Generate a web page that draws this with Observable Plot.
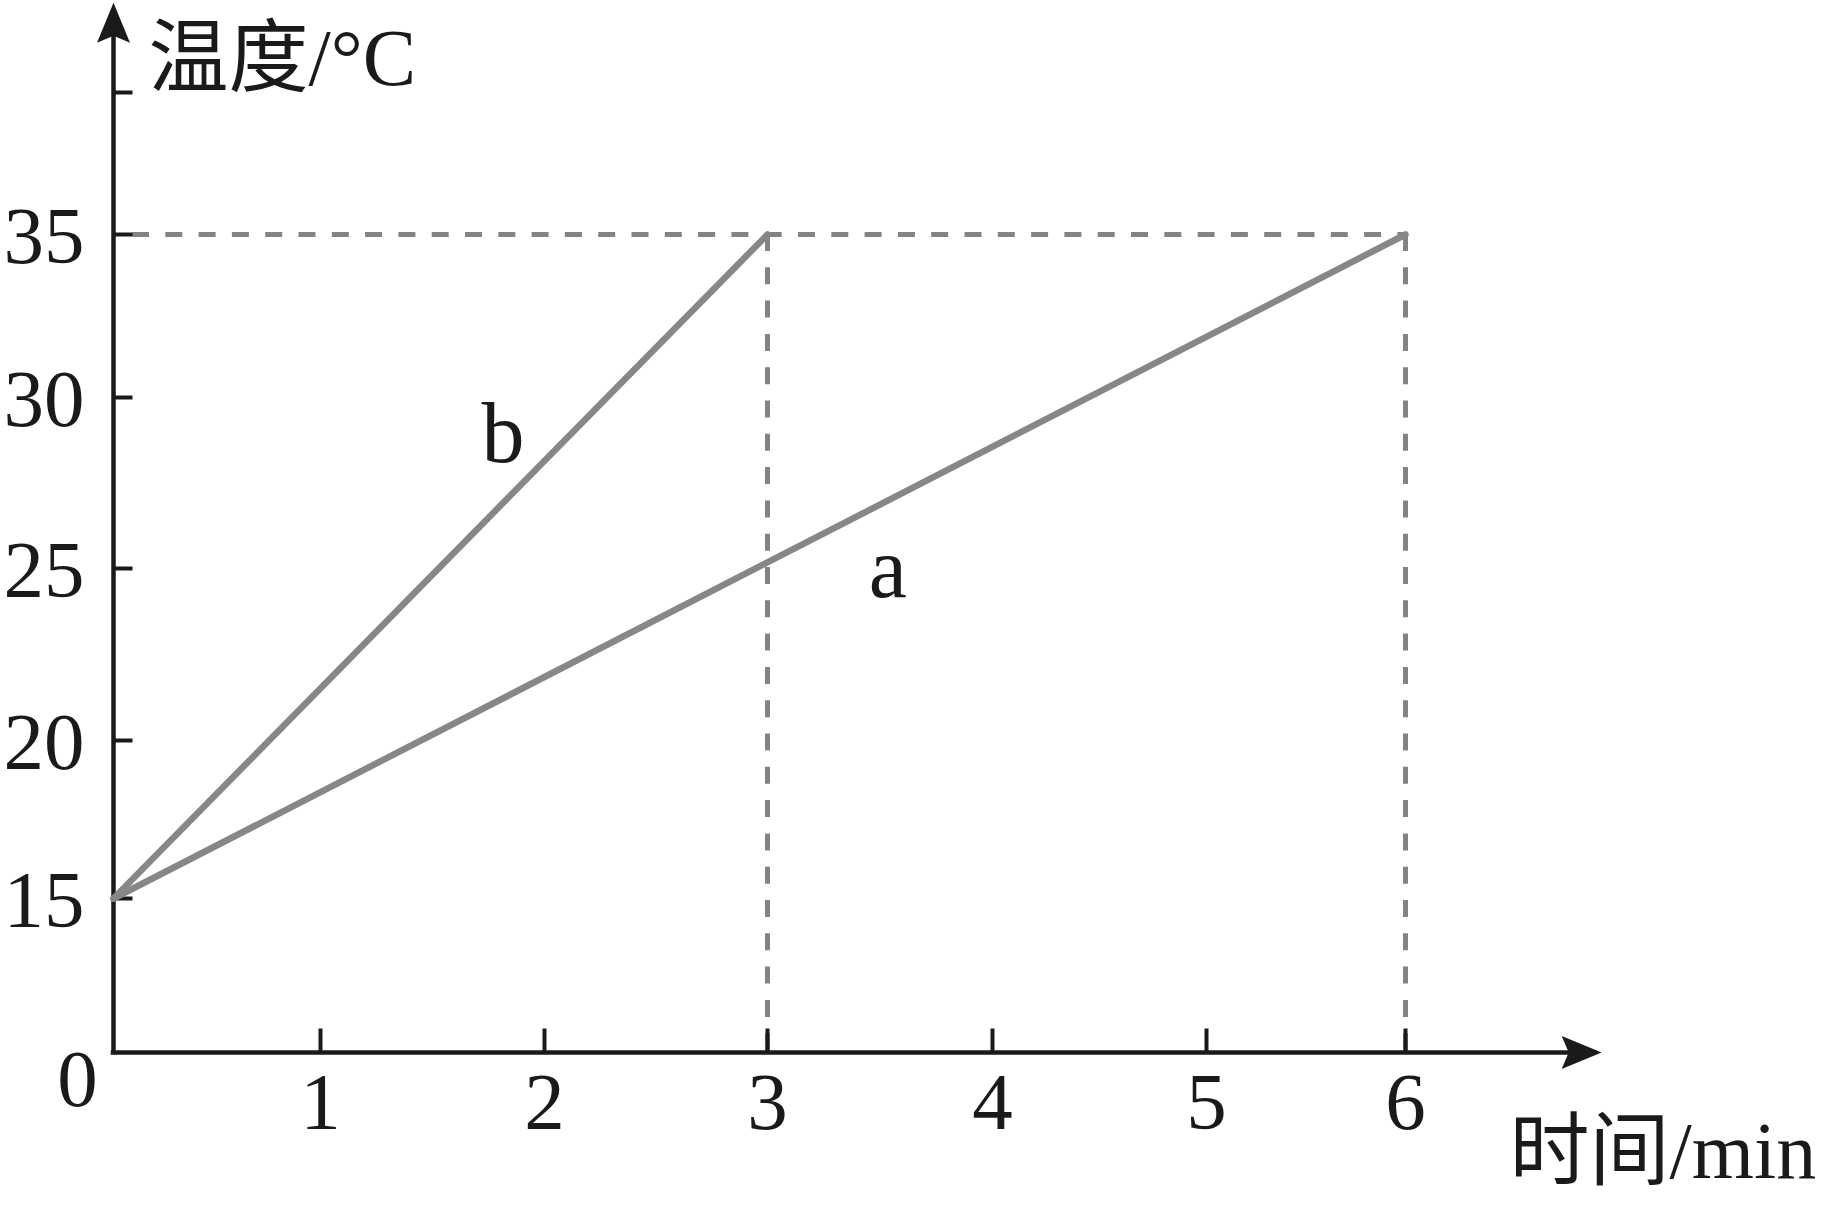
<!DOCTYPE html>
<html><head><meta charset="utf-8">
<script src="https://cdn.jsdelivr.net/npm/d3@7"></script>
<script src="https://cdn.jsdelivr.net/npm/@observablehq/plot@0.6"></script>
<style>html,body{margin:0;padding:0;background:#fff;overflow:hidden}</style>
</head><body><div id="chart"></div>
<script>
// ---- data ----
const seriesNames = ["a", "b"];
const timeA = [0, 6];
const tempA = [15, 35];
const timeB = [0, 3];
const tempB = [15, 35];
const xTicks = [1, 2, 3, 4, 5, 6];
const yTicks = [15, 20, 25, 30, 35, 40];
const yTickLabels = [15, 20, 25, 30, 35];
const originLabel = "0";
const guideTimes = [3, 6];
const guideTemp = 35;
const labelTime = [3.535, 1.815];
const labelTemp = [24.16, 28.10];
const yTitle = "温度/°C";
const xTitle = "时间/min";
const xAxisEnd = 6.82;
const yAxisEnd = 42;

// ---- tables ----
const lines = [
  ...timeA.map((t, i) => ({time: t, temp: tempA[i], series: seriesNames[0]})),
  ...timeB.map((t, i) => ({time: t, temp: tempB[i], series: seriesNames[1]}))
];
const labels = seriesNames.map((s, i) => ({name: s, time: labelTime[i], temp: labelTemp[i]}));

const ink = "#1a1a1a";
const gray = "#878787";
const dashGray = "#838383";
const serif = "'Liberation Serif', 'Noto Sans CJK SC', serif";

const arrowHead = {draw(ctx) { ctx.moveTo(0, -33); ctx.lineTo(16.5, 7); ctx.lineTo(0, 0); ctx.lineTo(-16.5, 7); ctx.closePath(); }};
const yTickShape = {draw(ctx) { ctx.moveTo(0, 0); ctx.lineTo(19, 0); }};
const xTickShape = {draw(ctx) { ctx.moveTo(0, 0); ctx.lineTo(0, -24); }};
const fmt = d => String(d);

const chart = Plot.plot({
  width: 1824,
  height: 1205,
  marginLeft: 113,
  marginTop: 2,
  marginRight: 224,
  marginBottom: 153,
  style: {fontFamily: serif, background: "white", color: ink, overflow: "visible"},
  x: {type: "linear", domain: [0, 1, 2, 3, 4, 5, 6], range: [113, 320, 544, 767, 992, 1206, 1405], axis: null, label: null},
  y: {type: "linear", domain: [0, 15, 20, 25, 30, 35, 40], range: [1052, 898, 740, 568, 397, 234, 92], axis: null, label: null},
  marks: [
    // dashed guides
    Plot.ruleY([guideTemp], {x1: 0, x2: guideTimes[guideTimes.length - 1], stroke: dashGray, strokeWidth: 5, strokeDasharray: "17,16.3", strokeDashoffset: 14.3}),
    Plot.ruleX(guideTimes, {y1: guideTemp, y2: 0, stroke: dashGray, strokeWidth: 5, strokeDasharray: "17,16.3"}),
    // axes lines
    Plot.ruleX([0], {y1: 0, y2: yAxisEnd, stroke: ink, strokeWidth: 4.5, strokeLinecap: "square"}),
    Plot.ruleY([0], {x1: 0, x2: xAxisEnd, stroke: ink, strokeWidth: 4.5, strokeLinecap: "square"}),
    Plot.dot([0], {x: 0, y: yAxisEnd, symbol: arrowHead, fill: ink, stroke: "none"}),
    Plot.dot([0], {x: xAxisEnd, y: 0, symbol: arrowHead, rotate: 90, fill: ink, stroke: "none"}),
    // ticks
    Plot.dot(yTicks, {x: 0, y: d => d, symbol: yTickShape, stroke: ink, strokeWidth: 4, fill: "none"}),
    Plot.dot(xTicks, {x: d => d, y: 0, symbol: xTickShape, stroke: ink, strokeWidth: 4, fill: "none"}),
    // tick labels
    Plot.axisY(yTickLabels, {anchor: "left", tickSize: 0, tickPadding: 29, tickFormat: fmt, fontSize: 81, fontFamily: serif, fill: ink, label: null, dy: 3}),
    Plot.axisX(xTicks, {anchor: "bottom", tickSize: 0, tickPadding: 19, tickFormat: fmt, fontSize: 81, fontFamily: serif, fill: ink, label: null}),
    Plot.text([originLabel], {x: 0, y: 0, text: d => d, dx: -36, dy: 53, lineAnchor: "bottom", textAnchor: "middle", fontSize: 81, fontFamily: serif, fill: ink}),
    // data lines
    Plot.line(lines, {x: "time", y: "temp", z: "series", stroke: gray, strokeWidth: 6.5, strokeLinecap: "round", strokeLinejoin: "round"}),
    // series labels
    Plot.text(labels, {x: "time", y: "temp", text: "name", lineAnchor: "bottom", textAnchor: "middle", fontSize: 86, fontFamily: serif, fill: ink}),
    // axis titles
    Plot.text([yTitle], {frameAnchor: "top-left", text: d => d, dx: 35, dy: 82, lineAnchor: "bottom", textAnchor: "start", fontSize: 80, fontFamily: serif, fill: ink}),
    Plot.text([xTitle], {frameAnchor: "bottom-right", text: d => d, dx: -91, dy: 125, lineAnchor: "bottom", textAnchor: "start", fontSize: 80, fontFamily: serif, fill: ink})
  ]
});
document.getElementById("chart").appendChild(chart);
</script>
</body></html>
